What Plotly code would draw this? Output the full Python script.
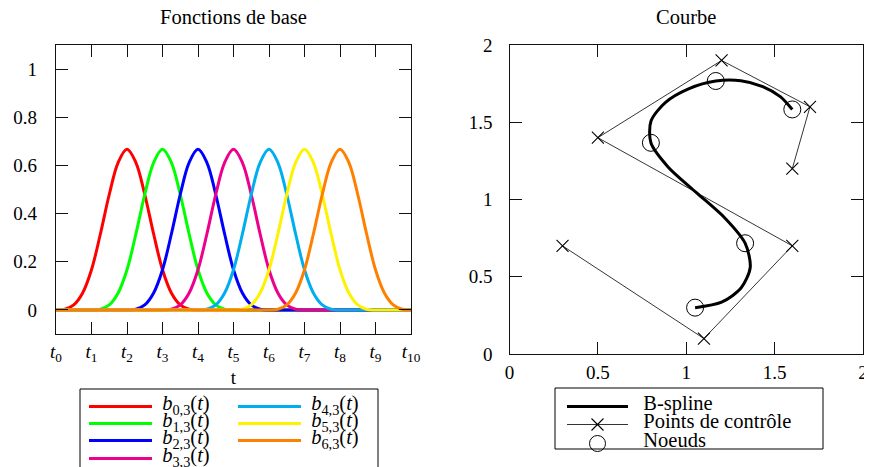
import plotly.graph_objects as go

# ---------------- data ----------------
t_grid = [0, 0.25, 0.5, 0.75, 1, 1.25, 1.5, 1.75, 2, 2.25, 2.5, 2.75, 3, 3.25, 3.5, 3.75,
          4, 4.25, 4.5, 4.75, 5, 5.25, 5.5, 5.75, 6, 6.25, 6.5, 6.75, 7, 7.25, 7.5, 7.75,
          8, 8.25, 8.5, 8.75, 9, 9.25, 9.5, 9.75, 10]

b0 = [0, 0.0026, 0.0208, 0.0703, 0.1667, 0.3151, 0.4792, 0.6120, 0.6667, 0.6120, 0.4792, 0.3151,
      0.1667, 0.0703, 0.0208, 0.0026, 0, 0, 0, 0, 0, 0, 0, 0, 0, 0, 0, 0, 0, 0, 0, 0,
      0, 0, 0, 0, 0, 0, 0, 0, 0]
b1 = [0, 0, 0, 0, 0, 0.0026, 0.0208, 0.0703, 0.1667, 0.3151, 0.4792, 0.6120, 0.6667, 0.6120, 0.4792, 0.3151,
      0.1667, 0.0703, 0.0208, 0.0026, 0, 0, 0, 0, 0, 0, 0, 0, 0, 0, 0, 0,
      0, 0, 0, 0, 0, 0, 0, 0, 0]
b2 = [0, 0, 0, 0, 0, 0, 0, 0, 0, 0.0026, 0.0208, 0.0703, 0.1667, 0.3151, 0.4792, 0.6120,
      0.6667, 0.6120, 0.4792, 0.3151, 0.1667, 0.0703, 0.0208, 0.0026, 0, 0, 0, 0, 0, 0, 0, 0,
      0, 0, 0, 0, 0, 0, 0, 0, 0]
b3 = [0, 0, 0, 0, 0, 0, 0, 0, 0, 0, 0, 0, 0, 0.0026, 0.0208, 0.0703,
      0.1667, 0.3151, 0.4792, 0.6120, 0.6667, 0.6120, 0.4792, 0.3151, 0.1667, 0.0703, 0.0208, 0.0026,
      0, 0, 0, 0, 0, 0, 0, 0, 0, 0, 0, 0, 0]
b4 = [0, 0, 0, 0, 0, 0, 0, 0, 0, 0, 0, 0, 0, 0, 0, 0,
      0, 0.0026, 0.0208, 0.0703, 0.1667, 0.3151, 0.4792, 0.6120, 0.6667, 0.6120, 0.4792, 0.3151,
      0.1667, 0.0703, 0.0208, 0.0026, 0, 0, 0, 0, 0, 0, 0, 0, 0]
b5 = [0, 0, 0, 0, 0, 0, 0, 0, 0, 0, 0, 0, 0, 0, 0, 0,
      0, 0, 0, 0, 0, 0.0026, 0.0208, 0.0703, 0.1667, 0.3151, 0.4792, 0.6120, 0.6667, 0.6120, 0.4792, 0.3151,
      0.1667, 0.0703, 0.0208, 0.0026, 0, 0, 0, 0, 0]
b6 = [0, 0, 0, 0, 0, 0, 0, 0, 0, 0, 0, 0, 0, 0, 0, 0,
      0, 0, 0, 0, 0, 0, 0, 0, 0, 0.0026, 0.0208, 0.0703, 0.1667, 0.3151, 0.4792, 0.6120,
      0.6667, 0.6120, 0.4792, 0.3151, 0.1667, 0.0703, 0.0208, 0.0026, 0]

basis_names = ["b0,3", "b1,3", "b2,3", "b3,3", "b4,3", "b5,3", "b6,3"]
basis_colors = ["#FF0000", "#00FF00", "#0000FF", "#EC008C", "#00AEEF", "#FFF200", "#FF8000"]
knot_labels = ["t0", "t1", "t2", "t3", "t4", "t5", "t6", "t7", "t8", "t9", "t10"]
knot_positions = [0, 1, 2, 3, 4, 5, 6, 7, 8, 9, 10]

# control points
ctrl_x = [0.3, 1.1, 1.6, 0.5, 1.2, 1.7, 1.6]
ctrl_y = [0.7, 0.1, 0.7, 1.4, 1.9, 1.6, 1.2]
# B-spline curve samples
curve_x = [1.050, 1.200, 1.310, 1.362, 1.333, 1.217, 1.054, 0.897, 0.800, 0.801, 0.883, 1.016,
           1.167, 1.309, 1.433, 1.532, 1.600]
curve_y = [0.300, 0.335, 0.427, 0.560, 0.717, 0.882, 1.048, 1.211, 1.367, 1.509, 1.629, 1.718,
           1.767, 1.769, 1.731, 1.666, 1.583]
# knots (noeuds) on the curve
node_x = [1.050, 1.333, 0.800, 1.167, 1.600]
node_y = [0.300, 0.717, 1.367, 1.767, 1.583]

FONT = "Liberation Serif, Times New Roman, serif"
OFF = 8                      # page body margin of the browser
W, H = 872 - OFF, 467 - OFF
ML, MR, MT, MB = 56 - OFF, 9, 45 - OFF, 113
PW, PH = W - ML - MR, H - MT - MB
TXT = 19
LEG = 20.5


def px(x):
    """page x-pixel of the target picture -> paper fraction"""
    return (x - OFF - ML) / PW


def py(y):
    """page y-pixel of the target picture -> paper fraction"""
    return (H - MB - (y - OFF)) / PH


def leg_label(name):
    i, k = name[1:].split(",")
    return ("<span style='font-size:%spx'>&nbsp;<i>b</i><sub>%s,%s</sub>(<i>t</i>)</span>"
            % (LEG, i, k))


def span(s):
    return "<span style='font-size:%spx'>&nbsp;&nbsp;%s</span>" % (LEG, s)


# legend rows (one legend per row so the row spacing matches)
left_rows = [(84, 403), (84, 420), (84, 437), (84, 455), (233, 403), (233, 420), (233, 437)]
right_rows = [(562, 403), (562, 421), (562, 440)]
ROW_OFF = 11

fig = go.Figure()
basis = [b0, b1, b2, b3, b4, b5, b6]
for i, (ys, nm, col) in enumerate(zip(basis, basis_names, basis_colors)):
    fig.add_trace(go.Scatter(
        x=t_grid, y=ys, mode="lines", name=leg_label(nm),
        line=dict(color=col, width=3, shape="spline", smoothing=1.0),
        legend="legend" if i == 0 else "legend%d" % (i + 1),
        xaxis="x", yaxis="y", hoverinfo="skip"))

fig.add_trace(go.Scatter(
    x=ctrl_x, y=ctrl_y, mode="lines+markers", name=span("Points de contrôle"),
    line=dict(color="black", width=0.8),
    marker=dict(symbol="x-thin", size=12, line=dict(color="black", width=1.1)),
    legend="legend9", xaxis="x2", yaxis="y2"))
fig.add_trace(go.Scatter(
    x=curve_x, y=curve_y, mode="lines", name=span("B-spline"),
    line=dict(color="black", width=3, shape="spline", smoothing=0.8),
    legend="legend8", xaxis="x2", yaxis="y2"))
fig.add_trace(go.Scatter(
    x=node_x, y=node_y, mode="markers", name=span("Noeuds"),
    marker=dict(symbol="circle-open", size=17, color="black", line=dict(color="black", width=1)),
    legend="legend10", xaxis="x2", yaxis="y2"))

axis_common = dict(showgrid=False, zeroline=False, showline=True, linecolor="#111",
                   linewidth=1.3, mirror="ticks", ticks="inside", ticklen=12,
                   tickwidth=1.2, tickcolor="#111",
                   tickfont=dict(family=FONT, size=TXT, color="black"))

tick_text = ["<i>t</i><sub>%s</sub>" % s[1:] for s in knot_labels]

legends = {}
for j, (lx, ly) in enumerate(left_rows + right_rows):
    key = "legend" if j == 0 else "legend%d" % (j + 1)
    legends[key] = dict(x=px(lx), y=py(ly - ROW_OFF), xanchor="left", yanchor="top",
                        bgcolor="rgba(0,0,0,0)", borderwidth=0,
                        itemwidth=63 if j < 7 else 61,
                        font=dict(family=FONT, size=10, color="black"))

fig.update_layout(
    width=W, height=H,
    margin=dict(l=ML, r=MR, t=MT, b=MB, autoexpand=False),
    paper_bgcolor="white", plot_bgcolor="white",
    font=dict(family=FONT, size=TXT, color="black"),
    xaxis=dict(domain=[0, px(411)], range=[0, 10], anchor="y",
               tickmode="array", tickvals=knot_positions, ticktext=tick_text,
               ticklabelstandoff=0,
               title=dict(text="t", font=dict(family=FONT, size=TXT), standoff=6),
               **axis_common),
    yaxis=dict(domain=[py(334), 1], range=[-0.1, 1.1], anchor="x",
               tickmode="array", tickvals=[0, 0.2, 0.4, 0.6, 0.8, 1],
               ticktext=["0", "0.2", "0.4", "0.6", "0.8", "1"],
               ticklabelstandoff=14, **axis_common),
    xaxis2=dict(domain=[px(509.5), 1], range=[0, 2], anchor="y2",
                tickmode="array", tickvals=[0, 0.5, 1, 1.5, 2],
                ticktext=["0", "0.5", "1", "1.5", "2"], ticklabelstandoff=1,
                **axis_common),
    yaxis2=dict(domain=[0, 1], range=[0, 2], anchor="x2",
                tickmode="array", tickvals=[0, 0.5, 1, 1.5, 2],
                ticktext=["0", "0.5", "1", "1.5", "2"], ticklabelstandoff=12,
                **axis_common),
    shapes=[
        dict(type="rect", xref="paper", yref="paper", x0=px(80), x1=px(378),
             y0=py(520), y1=py(389), line=dict(color="black", width=1)),
        dict(type="rect", xref="paper", yref="paper", x0=px(555), x1=px(823),
             y0=py(449), y1=py(388), line=dict(color="black", width=1)),
    ],
    annotations=[
        dict(text="Fonctions de base", x=px(233.5), y=py(17), xref="paper", yref="paper",
             xanchor="center", yanchor="middle", showarrow=False,
             font=dict(family=FONT, size=20.5, color="black")),
        dict(text="Courbe", x=px(686), y=py(17), xref="paper", yref="paper",
             xanchor="center", yanchor="middle", showarrow=False,
             font=dict(family=FONT, size=20.5, color="black")),
    ],
    showlegend=True,
    **legends,
)

fig.write_html("out.html")
